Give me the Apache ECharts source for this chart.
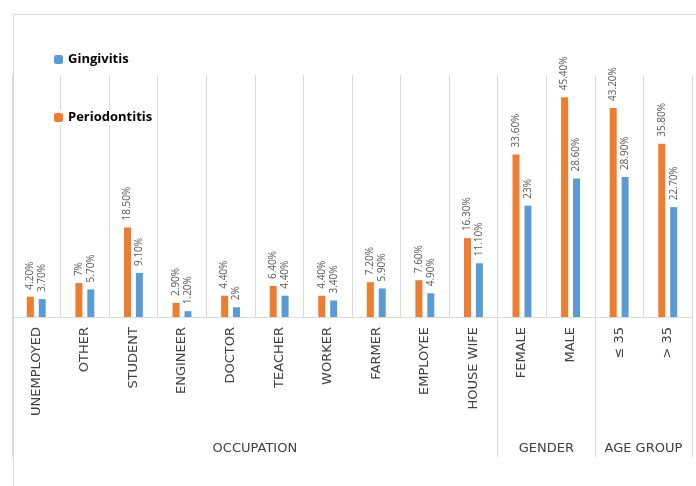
<!DOCTYPE html>
<html><head><meta charset="utf-8">
<script src="https://cdn.jsdelivr.net/npm/echarts@6/dist/echarts.min.js"></script>
<style>html,body{margin:0;padding:0;background:#fff}#c{width:696px;height:486px}</style>
</head><body><div id="c"></div>
<script>
const categories = ['UNEMPLOYED','OTHER','STUDENT','ENGINEER','DOCTOR','TEACHER','WORKER','FARMER','EMPLOYEE','HOUSE WIFE','FEMALE','MALE','≤ 35','> 35'];
const periodontitis = [4.2, 7, 18.5, 2.9, 4.4, 6.4, 4.4, 7.2, 7.6, 16.3, 33.6, 45.4, 43.2, 35.8];
const gingivitis = [3.7, 5.7, 9.1, 1.2, 2, 4.4, 3.4, 5.9, 4.9, 11.1, 23, 28.6, 28.9, 22.7];
const groupNames = ['OCCUPATION','GENDER','AGE GROUP'];
const groupSizes = [10, 2, 2];

const bounds = [0]; const centers = [];
groupSizes.forEach((s,i)=>{ centers.push(bounds[i] + s/2); bounds.push(bounds[i] + s); });

const fmt = v => (Number.isInteger(v) ? v : v.toFixed(2)) + '%';
const grey = '#d9d9d9';
const lbl = {show:true, position:'top', rotate:90, align:'left', verticalAlign:'middle', distance:7,
  color:'#595959', fontSize:10, fontFamily:'Open Sans', formatter: p => fmt(p.value)};

const chart = echarts.init(document.getElementById('c'));
chart.setOption({
  animation:false,
  graphic:[{type:'rect', left:11, top:12, shape:{width:720, height:500}, style:{fill:'none', stroke:grey, lineWidth:1}, z:-1}],
  legend:[
    {data:['Gingivitis'], left:52, top:52, orient:'vertical', itemWidth:9, itemHeight:9, itemGap:4,
     textStyle:{fontSize:13, fontWeight:'bold', color:'#000', fontFamily:'Open Sans'}, backgroundColor:'#fff', padding:[1,2]},
    {data:['Periodontitis'], left:52, top:110, orient:'vertical', itemWidth:9, itemHeight:9, itemGap:4,
     textStyle:{fontSize:13, fontWeight:'bold', color:'#000', fontFamily:'Open Sans'}, backgroundColor:'#fff', padding:[1,2]}
  ],
  grid:{left:12, right:4, top:75, bottom:169},
  xAxis:[
    {type:'category', data:categories, position:'bottom',
     axisLine:{lineStyle:{color:grey}}, axisTick:{show:false},
     splitLine:{show:true, interval:0, lineStyle:{color:grey}},
     axisLabel:{interval:0, rotate:90, margin:10, color:'#404040', fontSize:13, fontFamily:'DejaVu Sans'}},
    {type:'value', min:0, max:bounds[bounds.length-1], position:'bottom',
     axisLine:{show:false}, splitLine:{show:false},
     axisTick:{show:true, customValues:bounds, length:140, lineStyle:{color:grey}},
     axisLabel:{show:true, customValues:centers, margin:125, color:'#404040', fontSize:13, fontFamily:'DejaVu Sans',
       formatter: v => groupNames[centers.indexOf(v)]}}
  ],
  yAxis:{type:'value', min:0, max:50, show:false, splitLine:{show:false}},
  series:[
    {name:'Periodontitis', type:'bar', data:periodontitis, barWidth:7, barGap:'70%', itemStyle:{color:'#ED7D31'}, label:lbl},
    {name:'Gingivitis', type:'bar', data:gingivitis, barWidth:7, itemStyle:{color:'#5B9BD5'}, label:lbl}
  ]
});
</script></body></html>
